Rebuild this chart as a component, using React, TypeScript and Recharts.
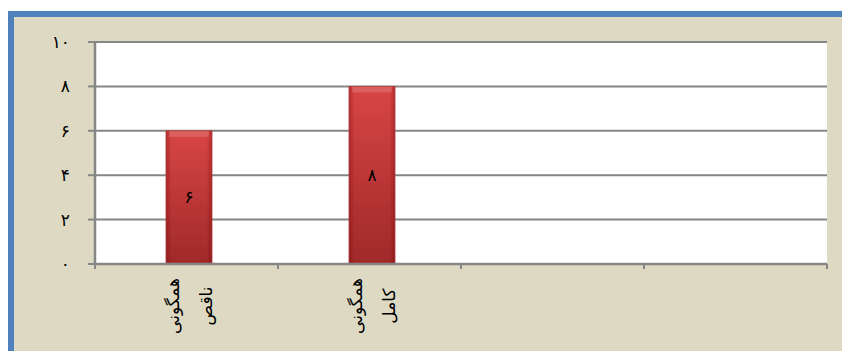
import React from 'react'
import { BarChart, Bar, XAxis, YAxis, CartesianGrid, LabelList } from 'recharts'

// categories (each label is drawn on two rotated lines)
const categoryLines: string[][] = [['همگونی', 'ناقص'], ['همگونی', 'کامل'], [], []]
const values: (number | null)[] = [6, 8, null, null]
const yTicks = [0, 2, 4, 6, 8, 10]
const persianDigits = ['۰', '۱', '۲', '۳', '۴', '۵', '۶', '۷', '۸', '۹']

const toPersian = (v: number | string) =>
  String(v).replace(/[0-9]/g, (d) => persianDigits[Number(d)])

const data = values.map((v, i) => ({ id: `c${i}`, value: v }))

const FONT = '"DejaVu Sans", sans-serif'
const GRID = '#868686'

function CategoryTick(props: any) {
  const { x, y, payload, index } = props
  const half = payload?.offset ?? 0
  const lines = categoryLines[index] || []
  const cy = y + 42
  const offsets = [-8, 25]
  const last = index === data.length - 1
  return (
    <g>
      <line x1={x - half} x2={x - half} y1={y} y2={y + 5} stroke={GRID} strokeWidth={2} />
      {last && <line x1={x + half} x2={x + half} y1={y} y2={y + 5} stroke={GRID} strokeWidth={2} />}
      {lines.map((t, i) => (
        <text
          key={i}
          x={x + offsets[i]}
          y={cy}
          transform={`rotate(-90, ${x + offsets[i]}, ${cy})`}
          textAnchor="middle"
          fontFamily={FONT}
          fontSize={17}
          fill="#000"
        >
          {t}
        </text>
      ))}
    </g>
  )
}

function BevelBar(props: any) {
  const { x, y, width, height } = props
  if (!height || height <= 0) return null
  return (
    <g>
      <rect x={x + 2} y={y} width={width} height={height} fill="url(#barV)" />
      <rect x={x + 2} y={y} width={width} height={height} fill="url(#barH)" />
      <rect x={x + 5} y={y} width={width - 6} height={6} fill="#ffffff" opacity={0.15} />
      <rect x={x + 2} y={y} width={width} height={height} fill="none" stroke="#b13a3a" strokeWidth={0.8} />
    </g>
  )
}

export default function App() {
  return (
    <div style={{ position: 'absolute', left: 0, top: 0, width: 842, height: 351, background: '#fff' }}>
      <div
        style={{
          position: 'absolute',
          left: 8,
          top: 11,
          right: 0,
          bottom: 0,
          background: '#DDD9C3',
          borderTop: '6px solid #4F81BD',
          borderLeft: '6px solid #4F81BD',
        }}
      />
      <div style={{ position: 'absolute', left: 0, top: 0 }}>
        <BarChart width={842} height={351} data={data} margin={{ top: 42, right: 15, bottom: 0, left: 0 }}>
          <defs>
            <linearGradient id="barV" x1="0" y1="0" x2="0" y2="1">
              <stop offset="0%" stopColor="#d94646" />
              <stop offset="100%" stopColor="#a02929" />
            </linearGradient>
            <linearGradient id="barH" x1="0" y1="0" x2="1" y2="0">
              <stop offset="0%" stopColor="#6e0000" stopOpacity={0.35} />
              <stop offset="12%" stopColor="#6e0000" stopOpacity={0} />
              <stop offset="88%" stopColor="#6e0000" stopOpacity={0} />
              <stop offset="100%" stopColor="#6e0000" stopOpacity={0.35} />
            </linearGradient>
          </defs>
          <CartesianGrid vertical={false} stroke={GRID} strokeWidth={2} fill="#fff" />
          <XAxis
            dataKey="id"
            interval={0}
            height={87}
            tickSize={0}
            tickMargin={0}
            tickLine={false}
            axisLine={{ stroke: GRID, strokeWidth: 2.5 }}
            tick={<CategoryTick />}
          />
          <YAxis
            domain={[0, 10]}
            ticks={yTicks}
            width={95}
            tickSize={7}
            tickMargin={18}
            tickLine={{ stroke: GRID, strokeWidth: 2 }}
            axisLine={{ stroke: GRID, strokeWidth: 2.5 }}
            tickFormatter={toPersian}
            tick={{ fill: '#000', fontSize: 17, fontFamily: FONT }}
          />
          <Bar dataKey="value" barSize={46} isAnimationActive={false} shape={<BevelBar />}>
            <LabelList
              dataKey="value"
              position="center"
              formatter={(v: any) => (v == null ? '' : toPersian(v))}
              fill="#000"
              fontSize={17}
              fontFamily={FONT}
              dx={2}
            />
          </Bar>
        </BarChart>
      </div>
    </div>
  )
}
